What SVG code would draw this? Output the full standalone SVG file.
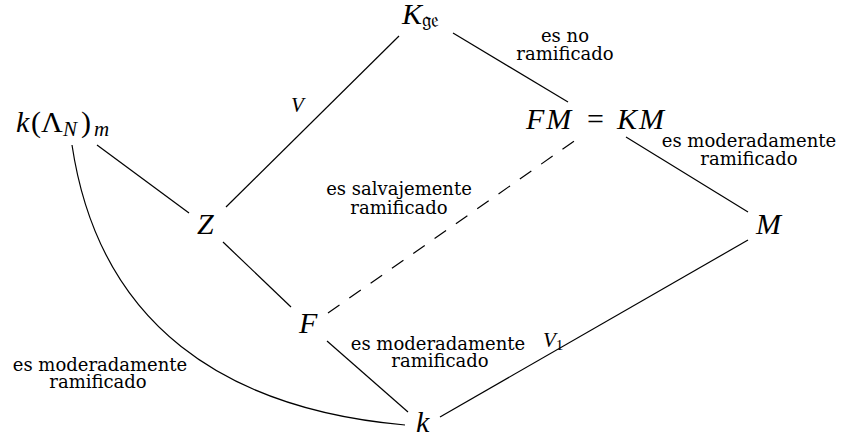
<svg xmlns="http://www.w3.org/2000/svg" width="843" height="439" viewBox="0 0 843 439">
<style>
.m{font-family:"Liberation Serif","DejaVu Serif",serif;font-style:italic;font-size:30px;fill:#000}
.u{font-style:normal}
.s{font-size:21px}
.l{font-family:"DejaVu Serif","Liberation Serif",serif;font-size:18px;fill:#000;text-anchor:middle}
.e{fill:none;stroke:#000;stroke-width:1.2}
.d{stroke-dasharray:14 12}
</style>
<rect width="843" height="439" fill="#fff"/>
<g id="connectors">
<line class="e" x1="399" y1="36" x2="226" y2="207"/>
<line class="e" x1="453" y1="33" x2="568" y2="102"/>
<line class="e" x1="97" y1="145" x2="189" y2="213"/>
<line class="e" x1="223" y1="242" x2="291" y2="307"/>
<line class="e d" x1="328" y1="313" x2="580" y2="137"/>
<line class="e" x1="626" y1="137" x2="748" y2="212"/>
<line class="e" x1="748" y1="240" x2="440" y2="417"/>
<line class="e" x1="327" y1="341" x2="408" y2="412"/>
<path class="e" d="M72,145 C99,325 225,409 405,425"/>
</g>
<g id="edge-labels">
<text class="m" style="font-size:21px" x="291" y="112">V</text>
<text class="l"><tspan x="565" y="42">es no</tspan><tspan x="565" y="60">ramificado</tspan></text>
<text class="l"><tspan x="749" y="147">es moderadamente</tspan><tspan x="749" y="165">ramificado</tspan></text>
<text class="l"><tspan x="399" y="195">es salvajemente</tspan><tspan x="399" y="214">ramificado</tspan></text>
<text class="l"><tspan x="438" y="350">es moderadamente</tspan><tspan x="440" y="367">ramificado</tspan></text>
<text class="l"><tspan x="100" y="371">es moderadamente</tspan><tspan x="98" y="388">ramificado</tspan></text>
<text class="m" style="font-size:21px" x="543" y="347">V<tspan class="u" style="font-size:15px" dy="3">1</tspan></text>
</g>
<g id="node-Kge"><text class="m" x="402" y="24">K<tspan class="u s" font-family="DejaVu Serif, DejaVu Sans, serif" dy="3">𝔤𝔢</tspan></text></g>
<g id="node-kLambda"><text class="m" x="16" y="132">k<tspan class="u" x="31">(</tspan><tspan class="u" x="41">Λ</tspan><tspan class="s" x="63" y="136">N</tspan><tspan class="u" x="81" y="132">)</tspan><tspan class="s" x="94" y="136">m</tspan></text></g>
<g id="node-FMKM"><text class="m" x="526" y="129" style="letter-spacing:2px">FM<tspan class="u" x="587" style="letter-spacing:0">=</tspan><tspan x="617">KM</tspan></text></g>
<g id="node-Z"><text class="m" x="197" y="234">Z</text></g>
<g id="node-M"><text class="m" x="756" y="234">M</text></g>
<g id="node-F"><text class="m" x="299" y="333">F</text></g>
<g id="node-k"><text class="m" x="416" y="432">k</text></g>
</svg>
